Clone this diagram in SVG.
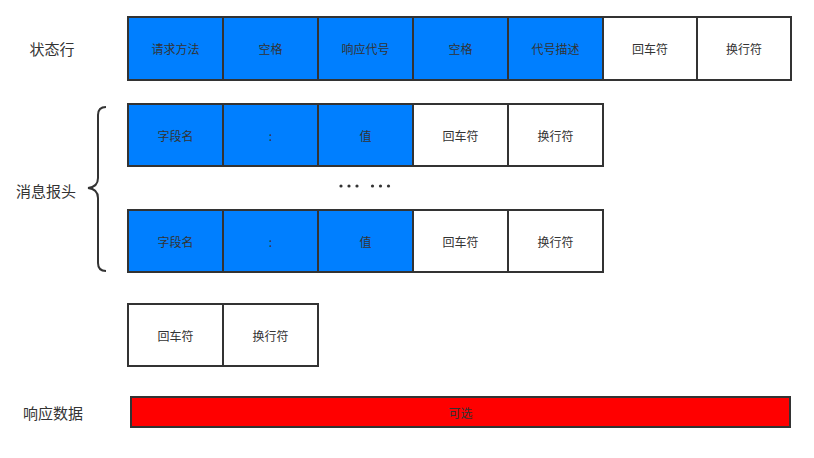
<svg xmlns="http://www.w3.org/2000/svg" width="814" height="458" viewBox="0 0 814 458">
<style>
.c{stroke:#333;stroke-width:2}
.b{fill:#007fff}
.w{fill:#fff}
.r{fill:#ff0000}
text{font-family:"Noto Sans CJK SC","Liberation Sans",sans-serif;fill:#333;text-anchor:middle;dominant-baseline:central}
.t{font-size:12px}
.l{font-size:15px}
</style>
<rect width="814" height="458" fill="#fff"/>
<g id="labels">
<text class="l" x="52" y="48">状态行</text>
<text class="l" x="46" y="190">消息报头</text>
<text class="l" x="53" y="412">响应数据</text>
</g>
<g id="row1">
<rect class="c b" x="128" y="17" width="95" height="63"/><text class="t" x="175.5" y="48.5">请求方法</text>
<rect class="c b" x="223" y="17" width="95" height="63"/><text class="t" x="270.5" y="48.5">空格</text>
<rect class="c b" x="318" y="17" width="95" height="63"/><text class="t" x="365.5" y="48.5">响应代号</text>
<rect class="c b" x="413" y="17" width="95" height="63"/><text class="t" x="460.5" y="48.5">空格</text>
<rect class="c b" x="508" y="17" width="95" height="63"/><text class="t" x="555.5" y="48.5">代号描述</text>
<rect class="c w" x="603" y="17" width="94" height="63"/><text class="t" x="650" y="48.5">回车符</text>
<rect class="c w" x="697" y="17" width="94" height="63"/><text class="t" x="744" y="48.5">换行符</text>
</g>
<g id="row2">
<rect class="c b" x="128" y="104" width="95" height="62"/><text class="t" x="175.5" y="135">字段名</text>
<rect class="c b" x="223" y="104" width="95" height="62"/><text class="t" x="270.5" y="135">:</text>
<rect class="c b" x="318" y="104" width="95" height="62"/><text class="t" x="365.5" y="135">值</text>
<rect class="c w" x="413" y="104" width="95" height="62"/><text class="t" x="460.5" y="135">回车符</text>
<rect class="c w" x="508" y="104" width="95" height="62"/><text class="t" x="555.5" y="135">换行符</text>
</g>
<g id="dots">
<circle cx="341" cy="186" r="1.6" fill="#333"/><circle cx="349" cy="186" r="1.6" fill="#333"/><circle cx="357" cy="186" r="1.6" fill="#333"/>
<circle cx="372.5" cy="186" r="1.6" fill="#333"/><circle cx="380.5" cy="186" r="1.6" fill="#333"/><circle cx="388.5" cy="186" r="1.6" fill="#333"/>
</g>
<g id="row3">
<rect class="c b" x="128" y="210" width="95" height="62"/><text class="t" x="175.5" y="241">字段名</text>
<rect class="c b" x="223" y="210" width="95" height="62"/><text class="t" x="270.5" y="241">:</text>
<rect class="c b" x="318" y="210" width="95" height="62"/><text class="t" x="365.5" y="241">值</text>
<rect class="c w" x="413" y="210" width="95" height="62"/><text class="t" x="460.5" y="241">回车符</text>
<rect class="c w" x="508" y="210" width="95" height="62"/><text class="t" x="555.5" y="241">换行符</text>
</g>
<g id="brace">
<path d="M106,107 Q98,107 98,115 L98,178 Q98,187 88,188 Q98,189 98,198 L98,263 Q98,271 106,271" fill="none" stroke="#333" stroke-width="2"/>
</g>
<g id="row4">
<rect class="c w" x="128" y="304" width="95" height="62"/><text class="t" x="175.5" y="335">回车符</text>
<rect class="c w" x="223" y="304" width="95" height="62"/><text class="t" x="270.5" y="335">换行符</text>
</g>
<g id="data">
<rect class="c r" x="131" y="397" width="659" height="30"/><text class="t" x="460.5" y="412">可选</text>
</g>
</svg>
